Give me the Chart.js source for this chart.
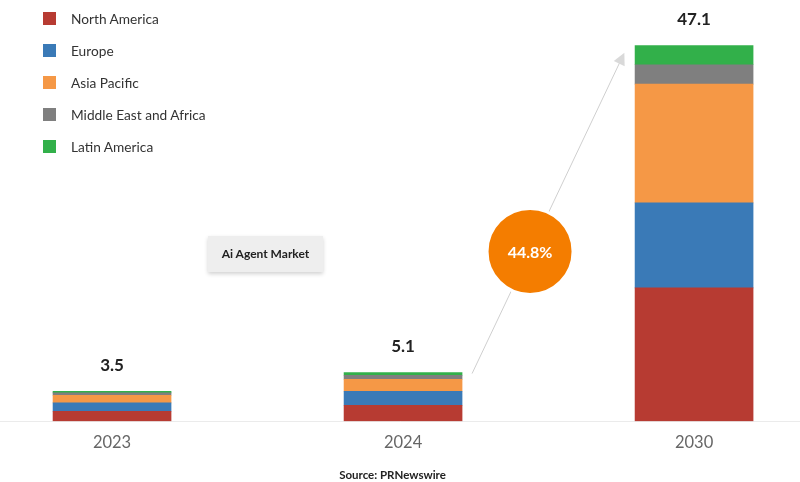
<!DOCTYPE html>
<html lang="en">
<head>
  <meta charset="UTF-8" />
  <title>Ai Agent Market</title>
  <script src="https://cdn.jsdelivr.net/npm/chart.js"></script>
  <style>
    html, body { margin: 0; padding: 0; background: #fff; }
    body { width: 800px; height: 482px; position: relative; overflow: hidden; font-family: Lato, sans-serif; }
    #wrap { position: absolute; left: 0; top: 0; width: 800px; height: 482px; }
    #legend { position: absolute; left: 43px; top: 2px; }
    .item { display: flex; align-items: center; height: 32px; font-size: 13.7px; color: #333; }
    .item .sw { width: 13px; height: 13px; margin-right: 15px; }
    #tag { position: absolute; left: 208px; top: 236px; width: 115px; height: 36px; line-height: 36px; text-align: center;
           background: #eeeeee; font-weight: bold; font-size: 12px; color: #222; box-shadow: 0 2px 4px rgba(0,0,0,.18); }
    #source { position: absolute; left: 0; width: 785px; top: 468px; text-align: center; font-weight: bold; font-size: 11.5px; color: #222; }
  </style>
</head>
<body>
  <div id="wrap"><canvas id="chart" width="800" height="482"></canvas></div>
  <div id="legend"></div>
  <div id="tag">Ai Agent Market</div>
  <div id="source">Source: PRNewswire</div>

  <script>
    // data (USD bn)
    const years = ['2023', '2024', '2030'];
    const totals = [3.5, 5.1, 47.1];
    const northAmerica = [1.25, 2.0, 16.7];
    const europe = [1.04, 1.75, 10.65];
    const asiaPacific = [0.96, 1.5, 14.86];
    const middleEastAfrica = [0.29, 0.5, 2.43];
    const latinAmerica = [0.21, 0.34, 2.42];
    const cagr = '44.8%';

    const series = [
      { label: 'North America', data: northAmerica, color: '#b73b32' },
      { label: 'Europe', data: europe, color: '#3a7ab7' },
      { label: 'Asia Pacific', data: asiaPacific, color: '#f59846' },
      { label: 'Middle East and Africa', data: middleEastAfrica, color: '#7f7f7f' },
      { label: 'Latin America', data: latinAmerica, color: '#32b04a' }
    ];

    // html legend
    const legend = document.getElementById('legend');
    series.forEach(s => {
      legend.insertAdjacentHTML('beforeend',
        `<div class="item"><span class="sw" style="background:${s.color}"></span>${s.label}</div>`);
    });

    // totals above bars, growth arrow and bubble
    const extras = {
      id: 'extras',
      afterDatasetsDraw(chart) {
        const ctx = chart.ctx;
        const top = chart.getDatasetMeta(series.length - 1).data;
        ctx.save();
        ctx.fillStyle = '#222';
        ctx.font = 'bold 17px Lato';
        ctx.textAlign = 'center';
        ctx.textBaseline = 'middle';
        top.forEach((bar, i) => {
          ctx.fillText(String(totals[i]), bar.x, bar.y - 26);
        });

        // arrow from 2024 bar to 2030 bar
        const b1 = top[1], b2 = top[2];
        const x0 = b1.x + b1.width / 2 + 10, y0 = b1.y + 1;
        const x1 = b2.x - b2.width / 2 - 12, y1 = b2.y + 10;
        ctx.strokeStyle = '#cfcfcf';
        ctx.lineWidth = 1;
        ctx.beginPath();
        ctx.moveTo(x0, y0);
        ctx.lineTo(x1, y1);
        ctx.stroke();
        const ang = Math.atan2(y1 - y0, x1 - x0);
        ctx.fillStyle = '#d9d9d9';
        ctx.beginPath();
        ctx.moveTo(x1 + Math.cos(ang) * 3, y1 + Math.sin(ang) * 3);
        ctx.lineTo(x1 - Math.cos(ang) * 9 + Math.cos(ang + Math.PI / 2) * 6, y1 - Math.sin(ang) * 9 + Math.sin(ang + Math.PI / 2) * 6);
        ctx.lineTo(x1 - Math.cos(ang) * 9 - Math.cos(ang + Math.PI / 2) * 6, y1 - Math.sin(ang) * 9 - Math.sin(ang + Math.PI / 2) * 6);
        ctx.closePath();
        ctx.fill();

        // cagr bubble on the arrow
        const t = 0.384;
        const cx = x0 + (x1 - x0) * t, cy = y0 + (y1 - y0) * t;
        ctx.beginPath();
        ctx.arc(cx, cy, 43, 0, Math.PI * 2);
        ctx.fillStyle = '#f47d00';
        ctx.fill();
        ctx.lineWidth = 3;
        ctx.strokeStyle = '#ffffff';
        ctx.stroke();
        ctx.fillStyle = '#fff';
        ctx.font = 'bold 16px Lato';
        ctx.fillText(cagr, cx, cy + 1);
        ctx.restore();
      }
    };

    new Chart(document.getElementById('chart'), {
      type: 'bar',
      data: {
        datasets: series.map(s => ({
          label: s.label,
          data: s.data.map((v, i) => ({ x: i, y: v })),
          backgroundColor: s.color,
          borderWidth: 0,
          barThickness: 118
        }))
      },
      options: {
        responsive: false,
        animation: false,
        layout: { padding: { top: 22, bottom: 17, left: 0, right: 0 } },
        plugins: { legend: { display: false }, tooltip: { enabled: false } },
        scales: {
          x: {
            type: 'linear',
            stacked: true,
            offset: false,
            min: -0.385,
            max: 2.364,
            afterBuildTicks: (axis) => { axis.ticks = years.map((y, i) => ({ value: i })); },
            ticks: {
              callback: (v) => years[v],
              color: '#666',
              font: { family: 'Lato', size: 16.5 },
              padding: 12,
              maxRotation: 0,
              autoSkip: false
            },
            grid: { display: false, drawTicks: false, offset: false },
            border: { display: true, color: '#ebebeb', width: 1 }
          },
          y: {
            stacked: true,
            display: false,
            min: 0,
            max: 50
          }
        }
      },
      plugins: [extras]
    });
  </script>
</body>
</html>
